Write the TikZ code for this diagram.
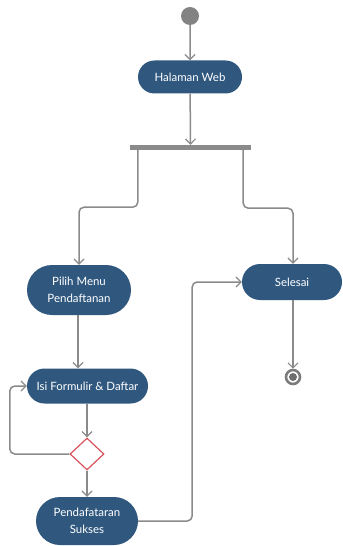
\documentclass[tikz,border=0pt]{standalone}
\usepackage{fontspec}
\setmainfont{Lato}
\usetikzlibrary{shapes.misc,shapes.geometric,arrows.meta}

\definecolor{actblue}{HTML}{30587F}
\definecolor{linegray}{HTML}{8A8A8A}
\definecolor{decred}{HTML}{D9535E}

\tikzset{
  activity/.style={rounded rectangle, fill=actblue, text=white, inner sep=0pt,
    font=\fontsize{11.5}{17}\selectfont, align=center},
  flow/.style={draw=linegray, line width=1.5bp, rounded corners=5bp,
    -{Straight Barb[length=5bp,width=10bp,line width=1.2bp]}},
  decision/.style={diamond, draw=decred, fill=white, line width=1.2bp,
    minimum width=34bp, minimum height=32bp, inner sep=0pt},
  forkbar/.style={rectangle, fill=linegray, inner sep=0pt},
}

\begin{document}
\begin{tikzpicture}[x=1bp, y=-1bp]
  \useasboundingbox (0,0) rectangle (342,546);

  % initial and final states
  \node[circle, fill=linegray!95!black, minimum size=18bp, inner sep=0pt] (start) at (190,16) {};
  \node[circle, draw=linegray!90!black, line width=2.6bp, fill=white,
        minimum size=14bp, inner sep=0pt,
        path picture={\fill[linegray!80!black] (path picture bounding box.center) circle (4bp);}]
        (stop) at (293,377) {};

  % activities
  \node[activity, minimum width=104bp, minimum height=33bp] (web) at (190,77) {Halaman Web};
  \node[forkbar, minimum width=121bp, minimum height=5bp] (fork) at (190.5,147.5) {};
  \node[activity, minimum width=104bp, minimum height=50bp] (pilih) at (79,290) {Pilih Menu\\Pendaftanan};
  \node[activity, minimum width=121bp, minimum height=35bp] (isi) at (87.5,386) {Isi Formulir \& Daftar};
  \node[decision] (dec) at (87,454) {};
  \node[activity, minimum width=102bp, minimum height=48bp] (sukses) at (87,521) {Pendafataran\\Sukses};
  \node[activity, minimum width=100bp, minimum height=36bp] (selesai) at (292,282) {Selesai};

  % control flow
  \draw[flow] (start) -- (web);
  \draw[flow] (web) -- (fork);
  \draw[flow] ([xshift=8bp]fork.south west) -- ++(0,57) -| (pilih.north);
  \draw[flow] ([xshift=-8bp]fork.south east) -- ++(0,58) -| ([xshift=1bp]selesai.north);
  \draw[flow] ([xshift=-1bp]pilih.south) -- ([xshift=-1bp]pilih.south |- isi.north);
  \draw[flow] (isi.south -| dec.north) -- (dec.north);
  \draw[flow] (dec.west) -| ([xshift=-17bp]isi.west) -- (isi.west);
  \draw[flow] (dec.south) -- (sukses.north);
  \draw[flow] (sukses.east) -- ++(54,0) |- (selesai.west);
  \draw[flow] ([xshift=1bp]selesai.south) -- ([xshift=1bp]selesai.south |- stop.north);
\end{tikzpicture}
\end{document}
